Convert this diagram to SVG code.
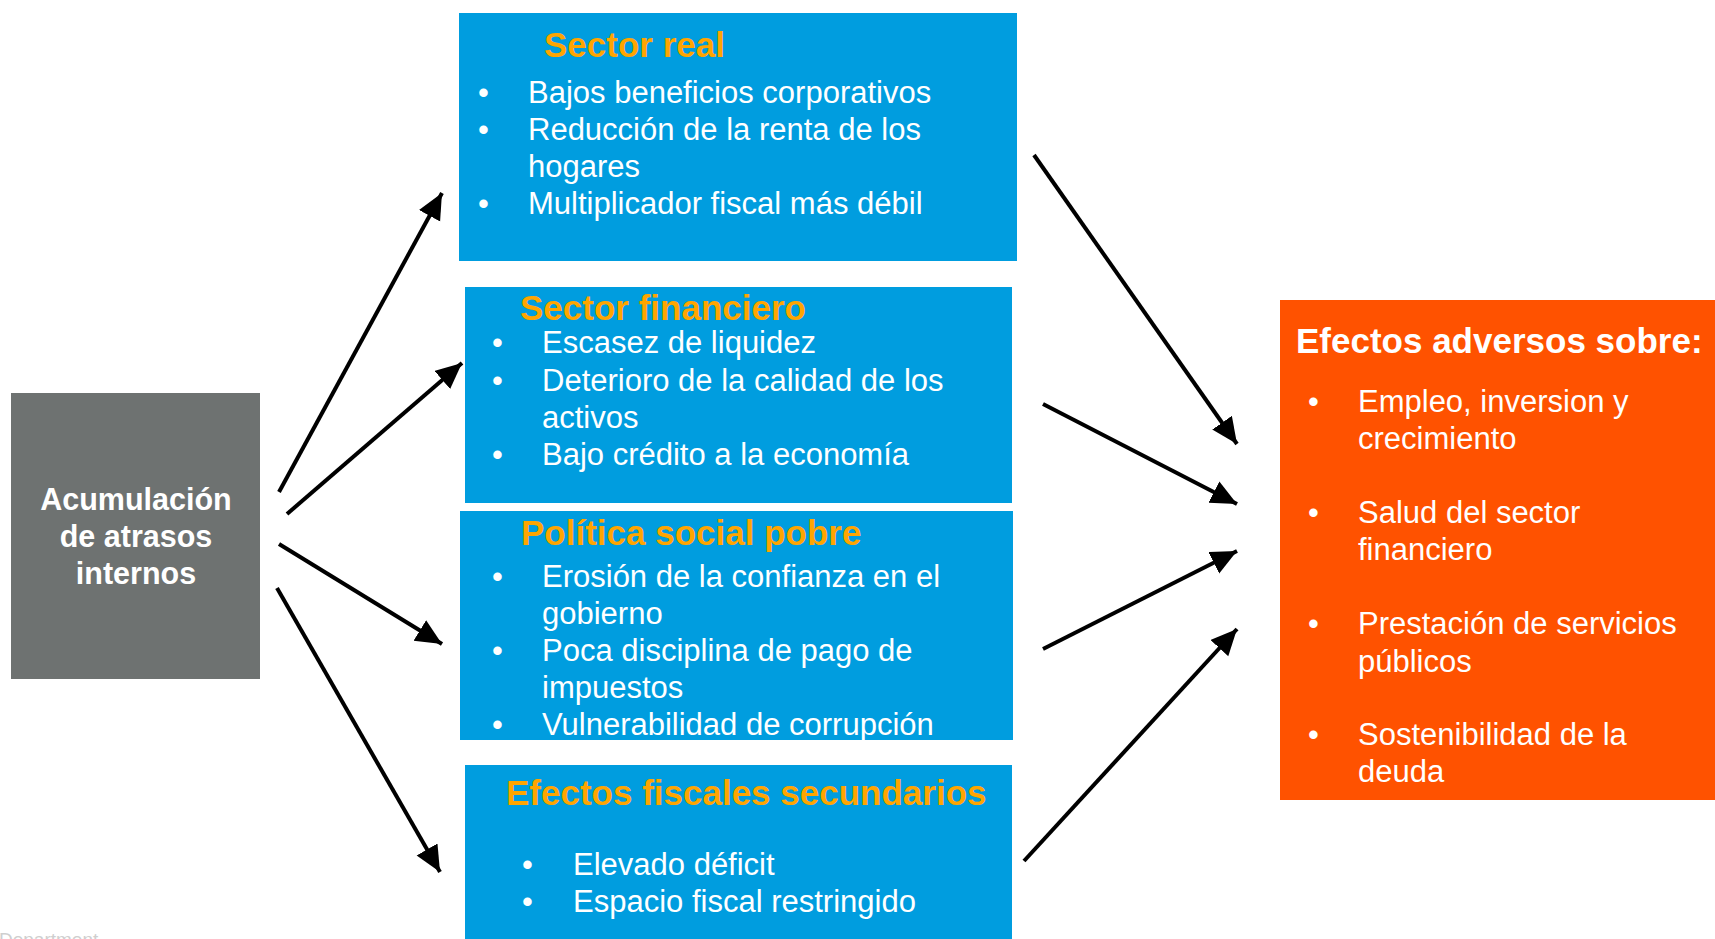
<svg xmlns="http://www.w3.org/2000/svg" width="1715" height="939" viewBox="0 0 1715 939">
<style>
.blue{fill:#009DDF}
.t{font-family:"Liberation Sans",Arial,sans-serif;fill:#fff;font-size:31px}
.h{font-family:"Liberation Sans",Arial,sans-serif;fill:#FFA500;font-size:35px;font-weight:bold}
.w{font-family:"Liberation Sans",Arial,sans-serif;fill:#fff;font-weight:bold}
.c{stroke:#000;stroke-width:4;fill:none;marker-end:url(#ah)}
</style>
<defs>
<marker id="ah" markerUnits="userSpaceOnUse" markerWidth="28" markerHeight="26" refX="26" refY="12" orient="auto">
<path d="M0,0 L26,12 L0,24 Z" fill="#000"/>
</marker>
</defs>
<rect width="1715" height="939" fill="#fff"/>
<text x="-1" y="946" font-family="Liberation Sans,Arial,sans-serif" font-size="19" fill="#cfcfcf">Department</text>

<g id="acumulacion">
<rect x="11" y="393" width="249" height="286" fill="#6E7271"/>
<text class="w" font-size="30.5" text-anchor="middle"><tspan x="136" y="510">Acumulación</tspan><tspan x="136" y="547">de atrasos</tspan><tspan x="136" y="584">internos</tspan></text>
</g>

<g id="sector-real">
<rect class="blue" x="459" y="13" width="558" height="248"/>
<text class="h" x="544" y="57">Sector real</text>
<g class="t">
<text x="478" y="103">•</text><text x="528" y="103">Bajos beneficios corporativos</text>
<text x="478" y="140">•</text><text x="528" y="140">Reducción de la renta de los</text>
<text x="528" y="177">hogares</text>
<text x="478" y="214">•</text><text x="528" y="214">Multiplicador fiscal más débil</text>
</g>
</g>

<g id="sector-financiero">
<rect class="blue" x="465" y="287" width="547" height="216"/>
<text class="h" x="520" y="320">Sector financiero</text>
<g class="t">
<text x="492" y="353">•</text><text x="542" y="353">Escasez de liquidez</text>
<text x="492" y="391">•</text><text x="542" y="391">Deterioro de la calidad de los</text>
<text x="542" y="428">activos</text>
<text x="492" y="465">•</text><text x="542" y="465">Bajo crédito a la economía</text>
</g>
</g>

<g id="politica-social">
<rect class="blue" x="460" y="511" width="553" height="229"/>
<text class="h" x="521" y="545">Política social pobre</text>
<g class="t">
<text x="492" y="587">•</text><text x="542" y="587">Erosión de la confianza en el</text>
<text x="542" y="624">gobierno</text>
<text x="492" y="661">•</text><text x="542" y="661">Poca disciplina de pago de</text>
<text x="542" y="698">impuestos</text>
<text x="492" y="735">•</text><text x="542" y="735">Vulnerabilidad de corrupción</text>
</g>
</g>

<g id="efectos-fiscales">
<rect class="blue" x="465" y="765" width="547" height="180"/>
<text class="h" x="506" y="805">Efectos fiscales secundarios</text>
<g class="t">
<text x="522" y="875">•</text><text x="573" y="875">Elevado déficit</text>
<text x="522" y="912">•</text><text x="573" y="912">Espacio fiscal restringido</text>
</g>
</g>

<g id="efectos-adversos">
<rect x="1280" y="300" width="440" height="500" fill="#FF5200"/>
<text class="w" font-size="35" x="1296" y="353">Efectos adversos sobre:</text>
<g class="t">
<text x="1308" y="412">•</text><text x="1358" y="412">Empleo, inversion y</text>
<text x="1358" y="449">crecimiento</text>
<text x="1308" y="523">•</text><text x="1358" y="523">Salud del sector</text>
<text x="1358" y="560">financiero</text>
<text x="1308" y="634">•</text><text x="1358" y="634">Prestación de servicios</text>
<text x="1358" y="672">públicos</text>
<text x="1308" y="745">•</text><text x="1358" y="745">Sostenibilidad de la</text>
<text x="1358" y="782">deuda</text>
</g>
</g>

<g id="connectors">
<line class="c" x1="279" y1="492" x2="442" y2="193"/>
<line class="c" x1="287" y1="514" x2="462" y2="363"/>
<line class="c" x1="279" y1="544" x2="442" y2="644"/>
<line class="c" x1="277" y1="588" x2="440" y2="872"/>
<line class="c" x1="1034" y1="155" x2="1237" y2="444"/>
<line class="c" x1="1043" y1="404" x2="1237" y2="504"/>
<line class="c" x1="1043" y1="649" x2="1237" y2="551"/>
<line class="c" x1="1024" y1="861" x2="1237" y2="629"/>
</g>
</svg>
